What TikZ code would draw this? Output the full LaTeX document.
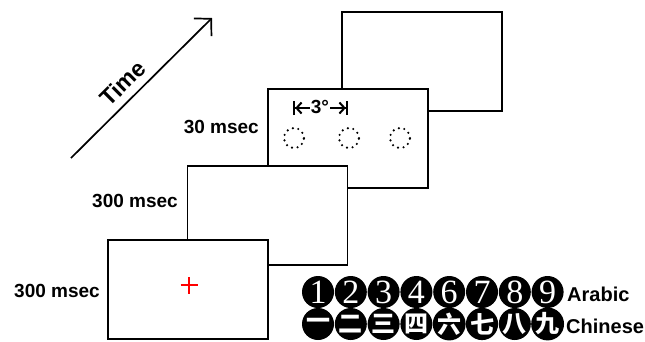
\documentclass[tikz,border=0pt]{standalone}
\usepackage{fontspec}
\setmainfont{Liberation Sans}
\newfontfamily\numfont{Liberation Serif}
\newfontfamily\cjk{Noto Sans CJK SC}
\usetikzlibrary{arrows.meta}
\tikzset{frame/.style={draw,fill=white,line width=1.8pt,minimum width=160pt,minimum height=99pt,inner sep=0pt},
         dur/.style={anchor=east,inner sep=0pt,font=\fontsize{19}{21}\selectfont\bfseries},
         stim/.style={circle,draw,line width=2.4pt,dash pattern=on 0pt off 5.6pt,line cap=round,minimum size=20pt,inner sep=0pt},
         chip/.style={circle,fill=black,text=white,minimum size=32pt,inner sep=0pt},
         span/.style={-{Straight Barb[length=5pt,width=11pt,sep=0pt,line width=2pt]Bar[width=14pt,line width=2.2pt]},line width=2pt},
         timeline/.style={-{Straight Barb[length=12pt,width=25pt]},line width=1.7pt}}

\begin{document}
\begin{tikzpicture}[x=1pt,y=-1pt]
  \useasboundingbox (0,0) rectangle (645,341);
  % frames, back to front
  \node[frame] (frame4) at (422,61.5) {};
  \node[frame] (frame3) at (348,138.5) {};
  \node[frame] (frame2) at (267.5,215.5) {};
  \node[frame] (frame1) at (188,289.5) {};
  \node[dur] (lab1) at (100,291) {300 msec};
  \node[dur] (lab2) at (178,201) {300 msec};
  \node[dur] (lab3) at (259,127) {30 msec};
  % fixation cross
  \coordinate (fix) at (189,285);
  \draw[red,line width=1.5pt] ([xshift=-8.5pt]fix) -- ([xshift=8.5pt]fix)
                              ([yshift=-8.5pt]fix) -- ([yshift=8.5pt]fix);
  % placeholders
  \node[stim] (s1) at (294,138) {};
  \node[stim] (s2) at (349,138) {};
  \node[stim] (s3) at (400,138) {};
  \node[inner sep=1pt,font=\fontsize{19}{21}\selectfont\bfseries] (deg) at (320,107) {3°};
  \coordinate (dl) at (293,108);
  \coordinate (dr) at (348,108);
  \draw[span] (deg.west|-dl) -- (dl);
  \draw[span] (deg.east|-dr) -- (dr);
  % time axis
  \coordinate (t0) at (71,158);
  \coordinate (t1) at (212,18);
  \draw[timeline] (t0) -- node[sloped,above=4pt,pos=.45,font=\fontsize{23}{25}\selectfont\bfseries] (tlab) {Time} (t1);
  % number sets
  \foreach \d [count=\i] in {1,2,3,4,6,7,8,9}
    \node[chip,font=\numfont\fontsize{34}{34}\selectfont] (ar\i) at ({318+32.8*(\i-1)},292) {\d};
  \foreach \c [count=\i] in {一,二,三,四,六,七,八,九}
    \node[chip,font=\cjk\bfseries\fontsize{24}{24}\selectfont] (cn\i) at ({318+32.8*(\i-1)},324) {\c};
  \node[anchor=west,inner sep=0pt,font=\fontsize{20}{22}\selectfont\bfseries] (arlab) at (567,294) {Arabic};
  \node[anchor=west,inner sep=0pt,font=\fontsize{20}{22}\selectfont\bfseries] (cnlab) at (566,326) {Chinese};
\end{tikzpicture}
\end{document}
